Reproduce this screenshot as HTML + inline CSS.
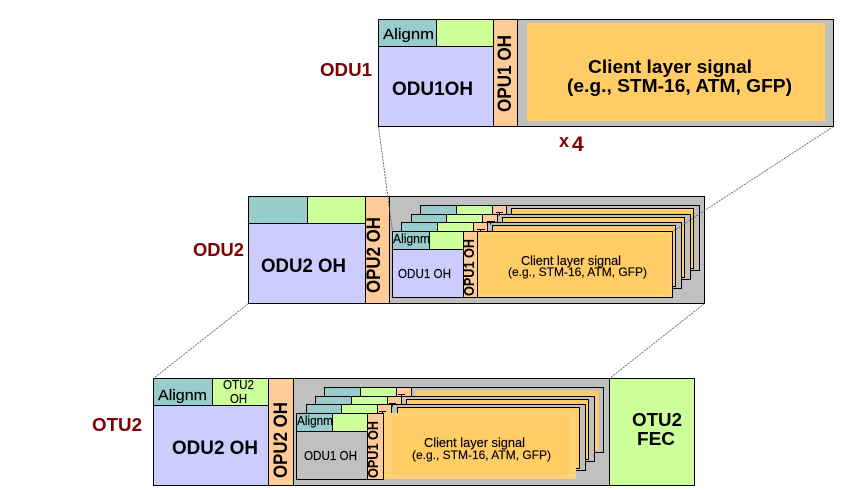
<!DOCTYPE html>
<html>
<head>
<meta charset="utf-8">
<style>
html,body{margin:0;padding:0;background:#fff;width:858px;height:490px;overflow:hidden}
svg{display:block}
text{font-family:"Liberation Sans",sans-serif;fill:#000}
.b{font-weight:bold}
.r{fill:#800000;font-weight:bold}
.k rect{stroke:#000;stroke-width:1;shape-rendering:crispEdges}
.t{fill:#99cccc}.g{fill:#ccff99}.p{fill:#ffcc99}.o{fill:#ffcc66}.v{fill:#ccccff}.y{fill:#c0c0c0}
.d{stroke:#555;stroke-width:.8;stroke-dasharray:2 1;fill:none}
.s{stroke:#000;stroke-width:.15}
</style>
</head>
<body>
<svg width="858" height="490" viewBox="0 0 858 490" xmlns="http://www.w3.org/2000/svg">

<!-- ODU1 -->
<g class="k">
<rect class="y" x="378.5" y="19.5" width="455" height="107"/>
<rect class="v" x="378.5" y="46.5" width="115" height="80"/>
<rect class="t" x="378.5" y="19.5" width="58" height="27"/>
<rect class="g" x="436.5" y="19.5" width="57" height="27"/>
<rect class="p" x="493.5" y="19.5" width="24" height="107"/>
</g>
<rect class="o" x="527" y="23" width="298" height="98"/>
<text class="s" x="383" y="39" font-size="15" textLength="51" lengthAdjust="spacingAndGlyphs">Alignm</text>
<text class="b" x="392" y="95" font-size="19" textLength="81" lengthAdjust="spacingAndGlyphs">ODU1OH</text>
<text class="b" transform="translate(511,112) rotate(-90)" font-size="19" textLength="77" lengthAdjust="spacingAndGlyphs">OPU1 OH</text>
<text class="b" x="588" y="73" font-size="18" textLength="164" lengthAdjust="spacingAndGlyphs">Client layer signal</text>
<text class="b" x="567" y="92" font-size="18" textLength="225" lengthAdjust="spacingAndGlyphs">(e.g., STM-16, ATM, GFP)</text>
<text class="r" x="320" y="76" font-size="18" textLength="52" lengthAdjust="spacingAndGlyphs">ODU1</text>
<text class="r" x="559" y="147" font-size="18">x</text>
<text class="r" x="572" y="151" font-size="21">4</text>

<!-- ODU2 -->
<g class="k">
<rect class="y" x="248.5" y="196.5" width="456" height="107"/>
<rect class="v" x="248.5" y="223.5" width="117" height="80"/>
<rect class="t" x="248.5" y="196.5" width="59" height="27"/>
<rect class="g" x="307.5" y="196.5" width="58" height="27"/>
<rect class="p" x="365.5" y="196.5" width="24" height="107"/>

<!-- card 4 -->
<rect class="y" x="506.5" y="205.5" width="193" height="65"/>
<rect class="o" x="511.5" y="208.5" width="182" height="60"/>
<rect class="t" x="420.5" y="205.5" width="36" height="26"/>
<rect class="g" x="456.5" y="205.5" width="36" height="26"/>
<rect class="p" x="492.5" y="205.5" width="14" height="26"/>
<!-- card 3 -->
<rect class="y" x="497.5" y="214.5" width="193" height="65"/>
<rect class="o" x="502.5" y="217.5" width="182" height="60"/>
<rect class="t" x="411.5" y="214.5" width="35" height="26"/>
<rect class="g" x="446.5" y="214.5" width="36" height="26"/>
<rect class="p" x="482.5" y="214.5" width="15" height="26"/>
<!-- card 2 -->
<rect class="y" x="487.5" y="222.5" width="194" height="66"/>
<rect class="o" x="492.5" y="225.5" width="183" height="61"/>
<rect class="t" x="401.5" y="222.5" width="36" height="26"/>
<rect class="g" x="437.5" y="222.5" width="36" height="26"/>
<rect class="p" x="473.5" y="222.5" width="14" height="26"/>
</g>
<path d="M496 212.5h7M499.5 212.5v3M487 221.5h8M490.5 221.5v3M477 229.5h8M480.5 229.5v2" stroke="#000" stroke-width="1" fill="none"/>
<!-- front -->
<g class="k">
<rect class="o" style="fill:#ffd27a" x="477.5" y="231.5" width="195" height="66"/>
<rect class="v" x="392.5" y="249.5" width="71" height="48"/>
<rect class="t" x="392.5" y="231.5" width="37" height="18"/>
<rect class="g" x="429.5" y="231.5" width="34" height="18"/>
<rect class="p" x="463.5" y="231.5" width="14" height="66"/>
</g>
<rect class="o" x="480" y="234" width="188" height="60"/>
<text class="s" x="393" y="243" font-size="13" textLength="37" lengthAdjust="spacingAndGlyphs">Alignm</text>
<text class="s" x="398" y="278" font-size="12.5" textLength="53" lengthAdjust="spacingAndGlyphs">ODU1 OH</text>
<text class="b" transform="translate(474,296) rotate(-90)" font-size="14.5" textLength="57" lengthAdjust="spacingAndGlyphs">OPU1 OH</text>
<text class="s" x="521" y="265" font-size="12.5" textLength="100" lengthAdjust="spacingAndGlyphs">Client layer signal</text>
<text class="s" x="508" y="276" font-size="12" textLength="139" lengthAdjust="spacingAndGlyphs">(e.g., STM-16, ATM, GFP)</text>
<text class="b" x="261" y="272" font-size="19" textLength="85" lengthAdjust="spacingAndGlyphs">ODU2 OH</text>
<text class="b" transform="translate(380,293) rotate(-90)" font-size="19" textLength="76" lengthAdjust="spacingAndGlyphs">OPU2 OH</text>
<text class="r" x="193" y="256" font-size="18" textLength="51" lengthAdjust="spacingAndGlyphs">ODU2</text>

<!-- OTU2 -->
<g class="k">
<rect class="y" x="153.5" y="378.5" width="456" height="107"/>
<rect class="v" x="153.5" y="405.5" width="115" height="80"/>
<rect class="t" x="153.5" y="378.5" width="59" height="27"/>
<rect class="g" x="212.5" y="378.5" width="56" height="27"/>
<rect class="p" x="268.5" y="378.5" width="25" height="107"/>
<rect class="g" x="609.5" y="378.5" width="85" height="107"/>

<!-- card 4 -->
<rect class="y" x="411.5" y="387.5" width="192" height="65"/>
<rect class="o" style="stroke:none" x="415.5" y="390.5" width="183" height="60"/>
<rect class="t" x="324.5" y="387.5" width="36" height="26"/>
<rect class="g" x="360.5" y="387.5" width="36" height="26"/>
<rect class="p" x="396.5" y="387.5" width="15" height="26"/>
<!-- card 3 -->
<rect class="y" x="401.5" y="396.5" width="193" height="65"/>
<rect class="o" x="406.5" y="399.5" width="182" height="60"/>
<rect class="t" x="315.5" y="396.5" width="36" height="26"/>
<rect class="g" x="351.5" y="396.5" width="36" height="26"/>
<rect class="p" x="387.5" y="396.5" width="14" height="26"/>
<!-- card 2 -->
<rect class="y" x="391.5" y="404.5" width="194" height="66"/>
<rect class="o" x="397.5" y="407.5" width="182" height="61"/>
<rect class="t" x="306.5" y="404.5" width="35" height="26"/>
<rect class="g" x="341.5" y="404.5" width="36" height="26"/>
<rect class="p" x="377.5" y="404.5" width="14" height="26"/>
</g>
<path d="M398 394.5h7M401.5 394.5v3M389 403.5h7M392.5 403.5v3M379 411.5h7M382.5 411.5v2" stroke="#000" stroke-width="1" fill="none"/>
<!-- front -->
<rect x="383" y="413" width="193" height="66" style="fill:#ffd27a"/>
<rect class="o" x="392" y="417" width="178" height="58"/>
<g class="k">
<rect class="y" x="296.5" y="431.5" width="71" height="48"/>
<rect class="t" x="296.5" y="413.5" width="36" height="18"/>
<rect class="g" x="332.5" y="413.5" width="35" height="18"/>
<rect class="p" x="367.5" y="413.5" width="16" height="66"/>
</g>
<text class="s" x="158" y="400" font-size="15" textLength="49" lengthAdjust="spacingAndGlyphs">Alignm</text>
<text class="s" x="223" y="389" font-size="12.5" textLength="31" lengthAdjust="spacingAndGlyphs">OTU2</text>
<text class="s" x="230" y="403" font-size="12.5" textLength="17" lengthAdjust="spacingAndGlyphs">OH</text>
<text class="b" x="172" y="454" font-size="19" textLength="86" lengthAdjust="spacingAndGlyphs">ODU2 OH</text>
<text class="b" transform="translate(287,478) rotate(-90)" font-size="19" textLength="76" lengthAdjust="spacingAndGlyphs">OPU2 OH</text>
<text class="s" x="297" y="425" font-size="13" textLength="36" lengthAdjust="spacingAndGlyphs">Alignm</text>
<text class="s" x="304" y="460" font-size="12.5" textLength="53" lengthAdjust="spacingAndGlyphs">ODU1 OH</text>
<text class="b" transform="translate(378,478) rotate(-90)" font-size="14.5" textLength="57" lengthAdjust="spacingAndGlyphs">OPU1 OH</text>
<text class="s" x="424" y="447" font-size="12.5" textLength="101" lengthAdjust="spacingAndGlyphs">Client layer signal</text>
<text class="s" x="412" y="459" font-size="12" textLength="139" lengthAdjust="spacingAndGlyphs">(e.g., STM-16, ATM, GFP)</text>
<text class="b" x="632" y="426" font-size="18" textLength="50" lengthAdjust="spacingAndGlyphs">OTU2</text>
<text class="b" x="637" y="445" font-size="18" textLength="38" lengthAdjust="spacingAndGlyphs">FEC</text>
<text class="r" x="92" y="431" font-size="18" textLength="50" lengthAdjust="spacingAndGlyphs">OTU2</text>

<!-- connectors -->
<path class="d" d="M378.5 126.5L392.5 231.5"/>
<path class="d" d="M833.5 126.5L672.5 231.5"/>
<path class="d" d="M248.5 303.5L153.5 378.5"/>
<path class="d" d="M704.5 303.5L609.5 378.5"/>
</svg>
</body>
</html>
